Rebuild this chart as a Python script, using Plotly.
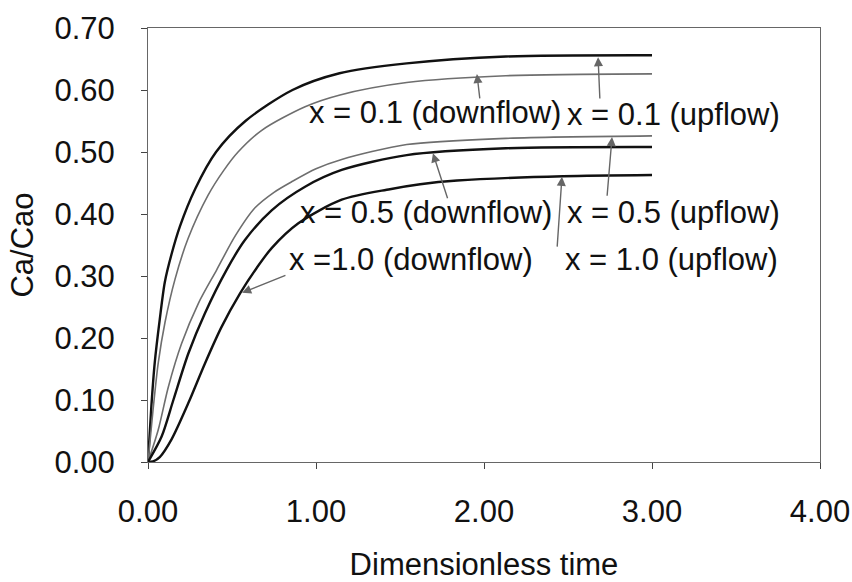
import plotly.graph_objects as go

# ---- data ----
t_a = [0, 0.02, 0.04, 0.07, 0.10, 0.14, 0.19, 0.28, 0.405, 0.58, 0.86, 1.14, 1.54, 2.13, 3.0]
c_a = [0, 0.09, 0.16, 0.23, 0.29, 0.335, 0.38, 0.44, 0.50, 0.55, 0.60, 0.627, 0.643, 0.654, 0.656]

t_b = [0, 0.03, 0.061, 0.101, 0.161, 0.238, 0.357, 0.45, 0.536, 0.677, 0.935, 1.143, 1.54, 2.13, 3.0]
c_b = [0, 0.084, 0.16, 0.225, 0.295, 0.36, 0.43, 0.47, 0.50, 0.535, 0.573, 0.592, 0.612, 0.623, 0.626]

t_c = [0, 0.061, 0.121, 0.20, 0.30, 0.409, 0.52, 0.637, 0.75, 0.855, 1.0, 1.153, 1.54, 2.13, 3.0]
c_c = [0, 0.052, 0.121, 0.191, 0.256, 0.31, 0.365, 0.41, 0.435, 0.452, 0.473, 0.488, 0.512, 0.522, 0.526]

t_d = [0, 0.081, 0.151, 0.24, 0.339, 0.468, 0.577, 0.736, 0.935, 1.153, 1.54, 2.13, 3.0]
c_d = [0, 0.041, 0.10, 0.175, 0.24, 0.31, 0.358, 0.406, 0.444, 0.471, 0.495, 0.506, 0.508]

t_e = [0, 0.03, 0.07, 0.141, 0.24, 0.339, 0.438, 0.548, 0.647, 0.736, 0.895, 1.153, 1.44, 1.62, 1.84, 2.47, 3.0]
c_e = [0, 0.001, 0.008, 0.037, 0.095, 0.159, 0.218, 0.272, 0.313, 0.345, 0.385, 0.423, 0.44, 0.448, 0.454, 0.461, 0.463]

x_ticks = [0, 1, 2, 3, 4]
y_ticks = [0, 0.1, 0.2, 0.3, 0.4, 0.5, 0.6, 0.7]

labels = ["x = 0.1 (downflow)", "x = 0.1 (upflow)", "x = 0.5 (downflow)",
          "x = 0.5 (upflow)", "x =1.0 (downflow)", "x = 1.0 (upflow)"]
label_x = [0.946, 2.482, 0.893, 2.482, 0.827, 2.47]
label_y = [0.563, 0.560, 0.402, 0.403, 0.326, 0.326]

# arrows: head (x, y), tail (ax, ay)
arrow_x = [1.958, 2.679, 1.696, 2.762, 2.464, 0.560]
arrow_y = [0.626, 0.653, 0.498, 0.524, 0.460, 0.273]
arrow_ax = [1.976, 2.690, 1.786, 2.732, 2.435, 0.827]
arrow_ay = [0.584, 0.584, 0.423, 0.427, 0.345, 0.302]

FONT = "Liberation Sans, Arial, sans-serif"

fig = go.Figure()
styles = [
    (t_a, c_a, "#111111", 2.4),
    (t_b, c_b, "#6e6e6e", 1.6),
    (t_c, c_c, "#6e6e6e", 1.6),
    (t_d, c_d, "#111111", 2.4),
    (t_e, c_e, "#111111", 2.4),
]
for t, c, col, w in styles:
    fig.add_trace(go.Scatter(x=t, y=c, mode="lines",
                             line=dict(color=col, width=w, shape="spline", smoothing=0.8),
                             showlegend=False, hoverinfo="skip"))

annotations = []
for txt, lx, ly in zip(labels, label_x, label_y):
    annotations.append(dict(x=lx, y=ly, xref="x", yref="y", text=txt, showarrow=False,
                            xanchor="left", yanchor="middle",
                            font=dict(family=FONT, size=31, color="#111111")))
for hx, hy, tx, ty in zip(arrow_x, arrow_y, arrow_ax, arrow_ay):
    annotations.append(dict(x=hx, y=hy, ax=tx, ay=ty, xref="x", yref="y",
                            axref="x", ayref="y", text="", showarrow=True,
                            arrowhead=2, arrowsize=1.3, arrowwidth=1.4,
                            arrowcolor="#666666"))

fig.update_layout(
    width=852, height=582,
    margin=dict(l=148, r=32, t=28, b=120),
    paper_bgcolor="white", plot_bgcolor="white",
    font=dict(family=FONT, size=31, color="#111111"),
    annotations=annotations,
    xaxis=dict(range=[0, 4], tickvals=x_ticks, automargin=False,
               ticktext=[f"{v:.2f}" for v in x_ticks],
               showgrid=False, zeroline=False, showline=True, mirror=True,
               linecolor="#666666", linewidth=1, ticks="outside", ticklen=6,
               tickcolor="#444444", ticklabelstandoff=16,
               title=dict(text="Dimensionless time", standoff=30,
                          font=dict(family=FONT, size=31))),
    yaxis=dict(range=[0, 0.70], tickvals=y_ticks, automargin=False,
               ticktext=[f"{v:.2f}" for v in y_ticks],
               showgrid=False, zeroline=False, showline=True, mirror=True,
               linecolor="#666666", linewidth=1, ticks="outside", ticklen=6,
               tickcolor="#444444", ticklabelstandoff=20,
               title=dict(text="Ca/Cao", standoff=11,
                          font=dict(family=FONT, size=31))),
)

fig.write_html("out.html")
